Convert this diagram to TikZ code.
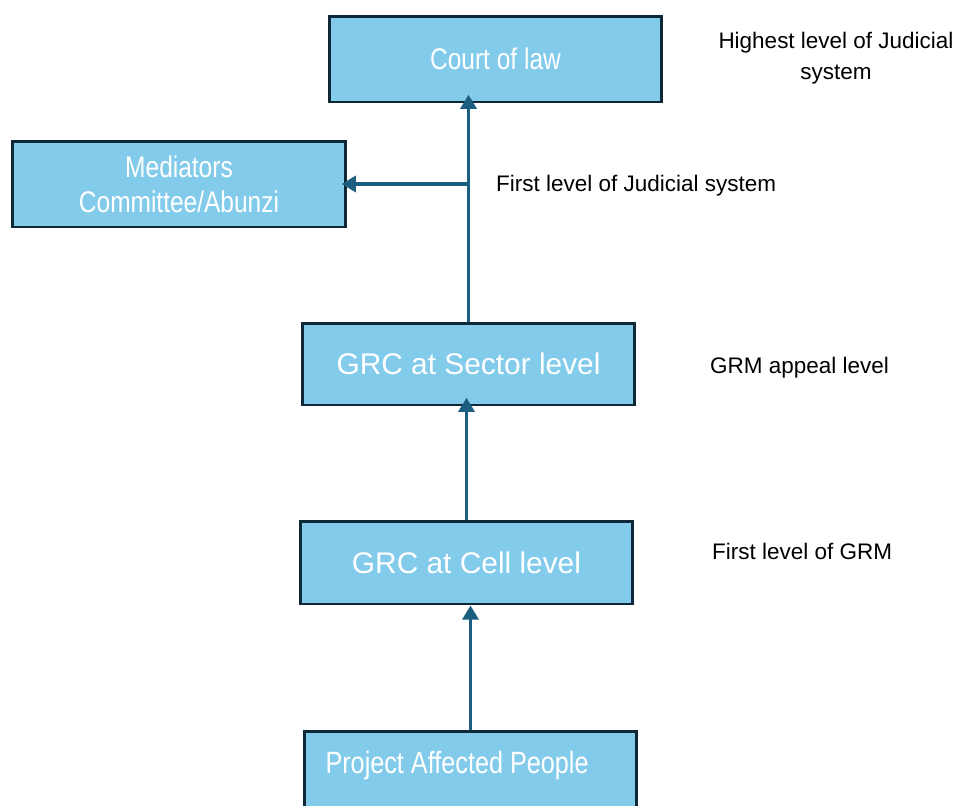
\documentclass[tikz,border=0pt]{standalone}
\usepackage{fontspec}
\setmainfont{Liberation Sans}
\newfontfamily\narrowfont[FakeStretch=0.82]{Liberation Sans}
\usetikzlibrary{arrows.meta,positioning}
\definecolor{boxfill}{HTML}{83CBEB}
\definecolor{boxline}{HTML}{0E2838}
\definecolor{flow}{HTML}{1B5E80}

\begin{document}
\begin{tikzpicture}[x=0.02cm, y=-0.02cm, every node/.style={font=\fontsize{12.8}{15}\selectfont}, >={Triangle[length=8pt,width=9pt]},
	level/.style={draw=boxline, line width=1.7pt, fill=boxfill, text=white, minimum width=6.66cm, minimum height=1.72cm, align=center},
	flowline/.style={->, flow, line width=2.2pt}]
	\useasboundingbox (0,0) rectangle (956,805);
	% levels
	\node[level, font=\narrowfont\fontsize{17}{20}\selectfont] (court) at (495.5,59) {Court of law};
	\node[level, font=\narrowfont\fontsize{17}{20}\selectfont] (med) at (179,184) {Mediators\\Committee/Abunzi};
	\node[level, minimum height=1.64cm, font=\fontsize{17}{20}\selectfont] (sector) at (468.5,364) {GRC at Sector level};
	\node[level, minimum height=1.66cm, font=\fontsize{17}{20}\selectfont] (cell) at (466.5,562.5) {GRC at Cell level};
	\node[level, anchor=north, minimum height=0pt, inner ysep=0pt, inner xsep=0.42cm,
		text height=0.84cm, text depth=0.74cm, font=\narrowfont\fontsize{17.5}{20}\selectfont] (pap) at (470.5,730) {\makebox[5.8cm][l]{Project Affected People}};
	% connectors
	\draw[flowline] (pap.north) -- (pap.north |- cell.south);
	\draw[flowline, shorten >=-5pt] (cell.north) -- (cell.north |- sector.south);
	\draw[flowline, shorten >=-5pt] (sector.north) -- (sector.north |- court.south);
	\coordinate (branch) at (sector.north |- med.east);
	\draw[flowline, shorten >=-3pt] (branch) -- (med.east);
	% side notes
	\node[align=center, font=\fontsize{12.8}{17.5}\selectfont] (lhigh) at (836,58) {Highest level of Judicial\\system};
	\node[anchor=west] (ljud) at (490,186) {First level of Judicial system};
	\node[anchor=west] (lappeal) at (704,368) {GRM appeal level};
	\node[anchor=west] (lgrm) at (706,551) {First level of GRM};
\end{tikzpicture}
\end{document}
